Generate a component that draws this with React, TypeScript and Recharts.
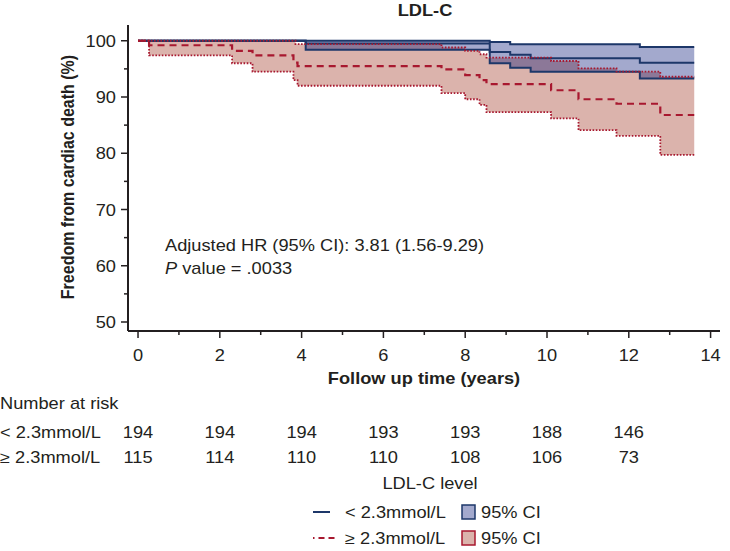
import React from 'react';
import { ComposedChart, Area, Line, XAxis, YAxis } from 'recharts';

// follow-up time (years) where each group's estimate steps down
const lowTimes = [0, 4.1, 8.6, 9.1, 9.6, 12.27, 13.6];
const lowSurv = [100, 99.5, 98.0, 97.5, 96.9, 96.1, 96.1];
const lowUpper = [100, 100, 99.8, 99.4, 99.4, 98.9, 98.9];
const lowLower = [100, 98.4, 96.0, 95.2, 94.5, 93.3, 93.3];

const highTimes = [0, 0.27, 2.3, 2.8, 3.8, 3.85, 3.9, 7.42, 8.0, 8.35, 8.52, 10.1, 10.77, 11.7, 12.77, 13.6];
const highSurv = [100, 99.2, 98.2, 97.4, 96.1, 96.1, 95.5, 94.9, 93.9, 93.0, 92.3, 91.2, 89.6, 88.8, 86.8, 86.8];
const highUpper = [100, 100, 100, 100, 100, 99.4, 99.4, 98.8, 98.2, 97.6, 97.0, 96.4, 95.1, 94.5, 93.6, 93.6];
const highLower = [100, 97.4, 96.0, 94.5, 93.0, 93.0, 92.0, 90.7, 89.6, 88.6, 87.3, 86.2, 84.1, 83.1, 79.7, 79.7];

const xTicks = [0, 1, 2, 3, 4, 5, 6, 7, 8, 9, 10, 11, 12, 13, 14];
const yTicks = [50, 55, 60, 65, 70, 75, 80, 85, 90, 95, 100];

const riskLow = [194, 194, 194, 193, 193, 188, 146];
const riskHigh = [115, 114, 110, 110, 108, 106, 73];

const INK = '#231f20';
const NAVY = '#1d3769';
const RED = '#a8182f';
const RED_BAND = '#dbb3ac';
const BLUE_BAND = '#a3a9cd';
// translucent blue that gives BLUE_BAND on white and a grey-purple over the red band
const BLUE_WASH = 'rgb(0,16,116)';
const FONT = '"Liberation Sans", Arial, sans-serif';
const STRETCH = 1.14;

const stepValue = (times: number[], vals: number[], t: number) => {
  let v = vals[0];
  for (let i = 0; i < times.length; i++) if (times[i] <= t) v = vals[i];
  return v;
};

const allTimes = Array.from(new Set([...lowTimes, ...highTimes])).sort((a, b) => a - b);
const rows = allTimes.map(t => ({
  t,
  lowSurv: stepValue(lowTimes, lowSurv, t),
  lowUpper: stepValue(lowTimes, lowUpper, t),
  lowLower: stepValue(lowTimes, lowLower, t),
  highSurv: stepValue(highTimes, highSurv, t),
  highUpper: stepValue(highTimes, highUpper, t),
  highLower: stepValue(highTimes, highLower, t),
}));

// text widened a bit, like the source figure
const T = ({ x, y, anchor = 'start', bold = false, size = 16, children }: any) => (
  <text
    transform={`translate(${x},${y}) scale(${STRETCH},1)`}
    textAnchor={anchor}
    fontFamily={FONT}
    fontSize={size}
    fontWeight={bold ? 700 : 400}
    fill={INK}
  >
    {children}
  </text>
);

const XTick = (props: any) => {
  const { x, y, payload } = props;
  const v = payload.value;
  const major = v % 2 === 0;
  const i = v / 2;
  return (
    <g>
      <line x1={x} y1={y} x2={x} y2={y + (major ? 7 : 4)} stroke={INK} strokeWidth={1.5} />
      {major && <T x={x} y={y + 30} anchor="middle">{v}</T>}
      {major && i < riskLow.length && <T x={x} y={y + 107} anchor="middle">{riskLow[i]}</T>}
      {major && i < riskHigh.length && <T x={x} y={y + 132} anchor="middle">{riskHigh[i]}</T>}
    </g>
  );
};

const YTick = (props: any) => {
  const { x, y, payload } = props;
  const v = payload.value;
  const major = v % 10 === 0;
  return (
    <g>
      <line x1={x - (major ? 7 : 4)} y1={y} x2={x} y2={y} stroke={INK} strokeWidth={1.5} />
      {major && <T x={x - 12} y={y + 6} anchor="end">{v}</T>}
    </g>
  );
};

export default function App() {
  return (
    <div style={{ position: 'absolute', left: 0, top: 0, width: 730, height: 551, background: '#fff' }}>
      <ComposedChart width={730} height={551} data={rows} margin={{ top: 25, right: 10, bottom: 160, left: 0 }}>
        <XAxis
          dataKey="t"
          type="number"
          domain={[-0.245, 14.23]}
          ticks={xTicks}
          interval={0}
          height={60}
          tickSize={0}
          tickMargin={0}
          tickLine={false}
          axisLine={{ stroke: INK, strokeWidth: 2 }}
          tick={<XTick />}
        />
        <YAxis
          type="number"
          domain={[48.4, 102.8]}
          ticks={yTicks}
          interval={0}
          width={128}
          tickSize={0}
          tickMargin={0}
          tickLine={false}
          axisLine={{ stroke: INK, strokeWidth: 2 }}
          tick={<YTick />}
        />
        <Area
          dataKey={(d: any) => [d.highLower, d.highUpper]}
          type="stepAfter"
          fill={RED_BAND}
          fillOpacity={1}
          stroke="none"
          isAnimationActive={false}
          activeDot={false}
        />
        <Area
          dataKey={(d: any) => [d.lowLower, d.lowUpper]}
          type="stepAfter"
          fill={BLUE_WASH}
          fillOpacity={0.36}
          stroke="none"
          isAnimationActive={false}
          activeDot={false}
        />
        <Line dataKey="lowUpper" type="stepAfter" stroke={NAVY} strokeWidth={2} dot={false} activeDot={false} isAnimationActive={false} />
        <Line dataKey="lowLower" type="stepAfter" stroke={NAVY} strokeWidth={2} dot={false} activeDot={false} isAnimationActive={false} />
        <Line dataKey="lowSurv" type="stepAfter" stroke={NAVY} strokeWidth={2} dot={false} activeDot={false} isAnimationActive={false} />
        <Line dataKey="highUpper" type="stepAfter" stroke={RED} strokeWidth={1.8} strokeDasharray="1.6 1.6" dot={false} activeDot={false} isAnimationActive={false} />
        <Line dataKey="highLower" type="stepAfter" stroke={RED} strokeWidth={1.8} strokeDasharray="1.6 1.6" dot={false} activeDot={false} isAnimationActive={false} />
        <Line dataKey="highSurv" type="stepAfter" stroke={RED} strokeWidth={2.2} strokeDasharray="7 5" dot={false} activeDot={false} isAnimationActive={false} />
      </ComposedChart>

      <svg width={730} height={551} style={{ position: 'absolute', left: 0, top: 0, pointerEvents: 'none' }}>
        <T x={425} y={16} anchor="middle" bold>LDL-C</T>
        <text
          transform="translate(74,177) rotate(-90) scale(1,1.14)"
          textAnchor="middle"
          fontFamily={FONT}
          fontSize={16}
          fontWeight={700}
          fill={INK}
        >
          Freedom from cardiac death (%)
        </text>
        <T x={424} y={384} anchor="middle" bold>Follow up time (years)</T>

        <T x={165} y={251}>Adjusted HR (95% CI): 3.81 (1.56-9.29)</T>
        <T x={165} y={274}>
          <tspan fontStyle="italic">P</tspan> value = .0033
        </T>

        <T x={0} y={409}>Number at risk</T>
        <T x={0} y={438}>&lt; 2.3mmol/L</T>
        <T x={0} y={463}>≥ 2.3mmol/L</T>

        <T x={430} y={489} anchor="middle">LDL-C level</T>
        <line x1={313} y1={512} x2={330} y2={512} stroke={NAVY} strokeWidth={2} />
        <T x={345} y={518}>&lt; 2.3mmol/L</T>
        <rect x={462} y={505} width={13} height={14} fill={BLUE_BAND} stroke={NAVY} strokeWidth={1.5} />
        <T x={481} y={518}>95% CI</T>
        <line x1={313} y1={538} x2={336} y2={538} stroke={RED} strokeWidth={2} strokeDasharray="1.5 4 6 4 6" />
        <T x={345} y={544}>≥ 2.3mmol/L</T>
        <rect x={462} y={531} width={13} height={14} fill={RED_BAND} stroke={RED} strokeWidth={1.5} />
        <T x={481} y={544}>95% CI</T>
      </svg>
    </div>
  );
}
